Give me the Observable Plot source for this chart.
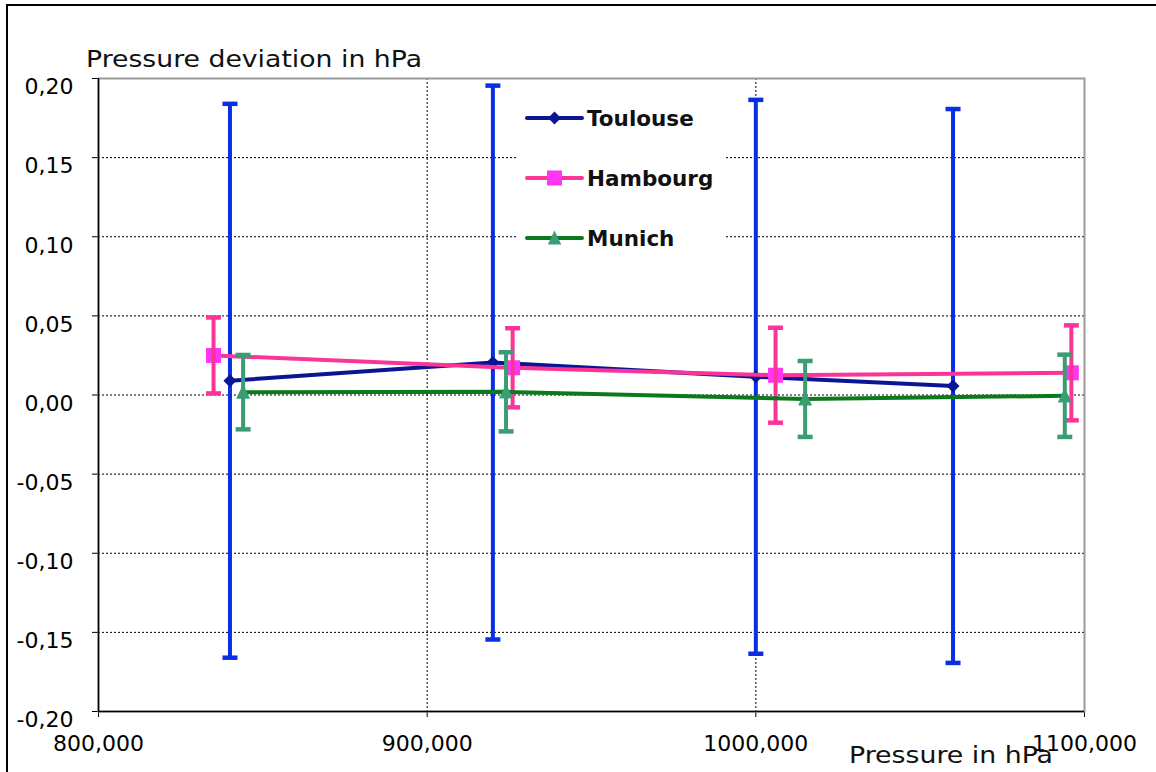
<!DOCTYPE html>
<html>
<head>
<meta charset="utf-8">
<script src="https://cdn.jsdelivr.net/npm/d3@7"></script>
<script src="https://cdn.jsdelivr.net/npm/@observablehq/plot@0.6"></script>
<style>
  html, body { margin: 0; padding: 0; background: #fff; overflow: hidden; }
  #wrap { position: relative; width: 1156px; height: 772px; }
  #frame { position: absolute; left: 6px; top: 4px; width: 1160px; height: 800px;
           border-top: 2px solid #000; border-left: 2px solid #000; pointer-events: none; }
  #legend { position: absolute; left: 517px; top: 96px; }
  svg text { font-family: "DejaVu Sans", Verdana, sans-serif; }
</style>
</head>
<body>
<div id="wrap"><div id="frame"></div></div>
<script>
// ---- data ----
const seriesNames = ["Toulouse", "Hambourg", "Munich"];

const pressureToulouse = [840000, 920000, 1000000, 1060000];
const deviationToulouse = [0.009, 0.0205, 0.0115, 0.0057];
const errorToulouse = [0.175, 0.175, 0.175, 0.175];

const pressureHambourg = [835000, 926000, 1006000, 1096000];
const deviationHambourg = [0.025, 0.0172, 0.0125, 0.014];
const errorHambourg = [0.024, 0.025, 0.030, 0.030];

const pressureMunich = [844000, 924000, 1015000, 1094000];
const deviationMunich = [0.0018, 0.002, -0.0025, -0.0005];
const errorMunich = [0.0235, 0.025, 0.024, 0.026];

const xDomain = [800000, 1100000];
const xTicks = [800000, 900000, 1000000, 1100000];
const xTickLabels = ["800,000", "900,000", "1000,000", "1100,000"];
const xGrid = [900000, 1000000];

const yDomain = [-0.2, 0.2];
const yTicks = [-0.2, -0.15, -0.1, -0.05, 0, 0.05, 0.1, 0.15, 0.2];
const yTickLabels = ["-0,20", "-0,15", "-0,10", "-0,05", "0,00", "0,05", "0,10", "0,15", "0,20"];
const yGrid = [-0.15, -0.1, -0.05, 0, 0.05, 0.1, 0.15];

const yTitle = "Pressure deviation in hPa";
const xTitle = "Pressure in hPa";

// ---- build tables ----
function table(name, xs, ys, es) {
  return xs.map((x, i) => ({series: name, x, y: ys[i], lo: ys[i] - es[i], hi: ys[i] + es[i]}));
}
const toulouse = table("Toulouse", pressureToulouse, deviationToulouse, errorToulouse);
const hambourg = table("Hambourg", pressureHambourg, deviationHambourg, errorHambourg);
const munich = table("Munich", pressureMunich, deviationMunich, errorMunich);

// ---- custom symbols ----
const capSymbol = {draw(ctx, size) { const r = Math.sqrt(size / Math.PI); ctx.moveTo(-r, 0); ctx.lineTo(r, 0); }};
const diamondSymbol = {draw(ctx, size) { const r = Math.sqrt(size / Math.PI); ctx.moveTo(0, -r); ctx.lineTo(r, 0); ctx.lineTo(0, r); ctx.lineTo(-r, 0); ctx.closePath(); }};
const squareSymbol = {draw(ctx, size) { const r = Math.sqrt(size / Math.PI); ctx.rect(-r, -r, 2 * r, 2 * r); }};
const triangleSymbol = {draw(ctx, size) { const r = Math.sqrt(size / Math.PI); ctx.moveTo(0, -r); ctx.lineTo(r * 0.9, r * 0.85); ctx.lineTo(-r * 0.9, r * 0.85); ctx.closePath(); }};

const styles = {
  Toulouse: {line: "#0a1593", bar: "#0a2fe2", marker: "#0a1593", symbol: diamondSymbol, r: 6.5},
  Hambourg: {line: "#fb3597", bar: "#fb3597", marker: "#ff35f5", symbol: squareSymbol, r: 7.5},
  Munich:   {line: "#0b7a1c", bar: "#3a9d74", marker: "#3a9d74", symbol: triangleSymbol, r: 7.5}
};

function errorMarks(data, s) {
  return [
    Plot.ruleX(data, {x: "x", y1: "lo", y2: "hi", stroke: s.bar, strokeWidth: 4}),
    Plot.dot(data, {x: "x", y: "lo", symbol: capSymbol, r: 7.5, stroke: s.bar, strokeWidth: 4.5, fill: "none"}),
    Plot.dot(data, {x: "x", y: "hi", symbol: capSymbol, r: 7.5, stroke: s.bar, strokeWidth: 4.5, fill: "none"})
  ];
}
function lineMarks(data, s) {
  return [
    Plot.line(data, {x: "x", y: "y", stroke: s.line, strokeWidth: 4}),
    Plot.dot(data, {x: "x", y: "y", symbol: s.symbol, r: s.r, fill: s.marker, stroke: "none"})
  ];
}

const chart = Plot.plot({
  width: 1156,
  height: 772,
  marginLeft: 98,
  marginRight: 72,
  marginTop: 78,
  marginBottom: 61,
  style: {fontFamily: "DejaVu Sans, Verdana, sans-serif", fontSize: "22px", color: "#000", background: "transparent"},
  x: {domain: xDomain, ticks: xTicks, tickFormat: d => xTickLabels[xTicks.indexOf(d)], tickSize: 6, tickPadding: 18, label: null},
  y: {domain: yDomain, ticks: yTicks, tickFormat: d => yTickLabels[yTicks.indexOf(d)], tickSize: 6, tickPadding: 19, label: null},
  marks: [
    Plot.ruleY(yGrid, {stroke: "#000", strokeWidth: 1, strokeDasharray: "2,2"}),
    Plot.ruleX(xGrid, {stroke: "#000", strokeWidth: 1, strokeDasharray: "2,2"}),
    Plot.frame({stroke: "#9a9a9a", strokeWidth: 2}),
    Plot.ruleX([xDomain[0]], {stroke: "#000", strokeWidth: 1.5}),
    Plot.ruleY([yDomain[0]], {stroke: "#000", strokeWidth: 1.5}),
    ...errorMarks(toulouse, styles.Toulouse),
    ...lineMarks(toulouse, styles.Toulouse),
    ...lineMarks(hambourg, styles.Hambourg),
    ...errorMarks(hambourg, styles.Hambourg),
    ...lineMarks(munich, styles.Munich),
    ...errorMarks(munich, styles.Munich),
    Plot.dot(munich, {x: "x", y: "y", symbol: triangleSymbol, r: 7.5, fill: styles.Munich.marker})
  ]
});
chart.style.position = "absolute";
chart.style.left = "0px";
chart.style.top = "0px";

const svg = d3.select(chart);
// axis titles
svg.append("text").text(yTitle)
  .attr("x", 86).attr("y", 67).attr("font-size", 23).attr("fill", "#111").attr("text-anchor", "start")
  .attr("textLength", 336).attr("lengthAdjust", "spacingAndGlyphs");
svg.append("text").text(xTitle)
  .attr("x", 849).attr("y", 763).attr("font-size", 23).attr("fill", "#111").attr("text-anchor", "start")
  .attr("textLength", 204).attr("lengthAdjust", "spacingAndGlyphs");
// nudge y tick labels slightly down
svg.selectAll("g[aria-label='y-axis tick label'] text").attr("dy", "0.4em");

const wrap = document.getElementById("wrap");
wrap.insertBefore(chart, wrap.firstChild);

// ---- legend ----
const legendRows = [
  {name: seriesNames[0], s: styles.Toulouse},
  {name: seriesNames[1], s: styles.Hambourg},
  {name: seriesNames[2], s: styles.Munich}
];
const lw = 208, lh = 168;
const legend = d3.create("svg").attr("id", "legend").attr("width", lw).attr("height", lh);
legend.append("rect").attr("width", lw).attr("height", lh).attr("fill", "#fff");
legendRows.forEach((row, i) => {
  const cy = 22 + i * 60;
  const g = legend.append("g").attr("transform", `translate(0,${cy})`);
  g.append("line").attr("x1", 10).attr("x2", 65).attr("y1", 0).attr("y2", 0)
    .attr("stroke", row.s.line).attr("stroke-width", 4).attr("stroke-linecap", "round");
  const r = row.s.r;
  g.append("path").attr("transform", "translate(37.5,0)")
    .attr("d", d3.symbol().type(row.s.symbol).size(Math.PI * r * r)())
    .attr("fill", row.s.marker);
  g.append("text").text(row.name).attr("x", 70).attr("y", 0).attr("dy", "0.36em")
    .attr("font-size", 21.5).attr("font-weight", "bold").attr("fill", "#111");
});
wrap.appendChild(legend.node());
</script>
</body>
</html>
